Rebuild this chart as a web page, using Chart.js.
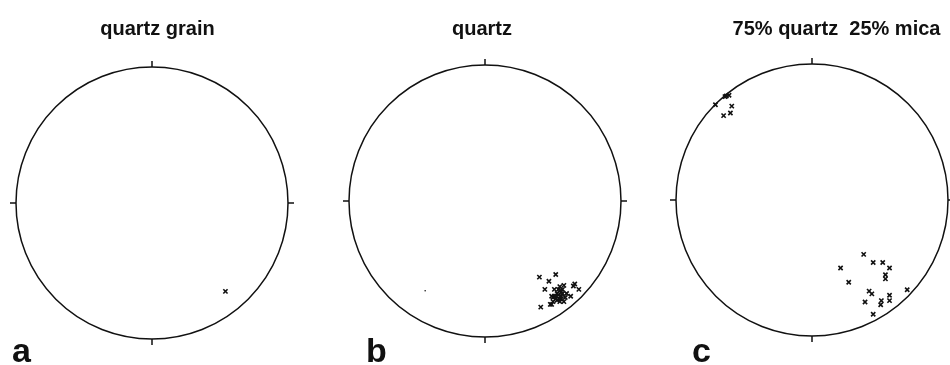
<!DOCTYPE html>
<html>
<head>
<meta charset="utf-8">
<script src="https://cdn.jsdelivr.net/npm/chart.js@4.4.1/dist/chart.umd.min.js"></script>
<style>
  html, body { margin: 0; padding: 0; background: #fff; overflow: hidden; }
  #wrap { position: relative; width: 950px; height: 365px; overflow: hidden; }
  .panel { position: absolute; top: 0; width: 320px; height: 365px; }
</style>
</head>
<body>
<div id="wrap">
  <div class="panel" style="left:-8px"><canvas id="netA" width="320" height="365"></canvas></div>
  <div class="panel" style="left:325px"><canvas id="netB" width="320" height="365"></canvas></div>
  <div class="panel" style="left:652px"><canvas id="netC" width="320" height="365"></canvas></div>
</div>
<script>
// Pole positions in unit-circle coordinates (x east, y north)
const grainPoles = [[0.54, -0.65]];

const quartzPoles = [
  [0.40, -0.56], [0.52, -0.54], [0.47, -0.59], [0.44, -0.65], [0.51, -0.65],
  [0.55, -0.63], [0.58, -0.62], [0.66, -0.61], [0.69, -0.65], [0.63, -0.70],
  [0.60, -0.68], [0.56, -0.67], [0.53, -0.68], [0.49, -0.70], [0.55, -0.72],
  [0.58, -0.74], [0.50, -0.74], [0.48, -0.76], [0.53, -0.73], [0.41, -0.78],
  [0.49, -0.76], [0.56, -0.70], [0.59, -0.71], [0.65, -0.625], [0.54, -0.65],
  [0.57, -0.68], [0.51, -0.70], [0.50, -0.71], [0.52, -0.72], [0.55, -0.66],
  [0.54, -0.69], [0.56, -0.72], [0.52, -0.70], [0.55, -0.74], [0.57, -0.65]
];
const quartzStray = [[-0.44, -0.66]];

const micaPoles = [
  [-0.71, 0.70], [-0.64, 0.76], [-0.61, 0.77], [-0.63, 0.765],
  [-0.59, 0.69], [-0.65, 0.62], [-0.60, 0.64]
];
const mixQuartzPoles = [
  [0.38, -0.40], [0.21, -0.50], [0.45, -0.46], [0.52, -0.46], [0.57, -0.50],
  [0.54, -0.55], [0.54, -0.58], [0.27, -0.605], [0.42, -0.67], [0.44, -0.69],
  [0.57, -0.70], [0.70, -0.66], [0.39, -0.75], [0.51, -0.74], [0.505, -0.77],
  [0.57, -0.74], [0.45, -0.84]
];

const toXY = pts => pts.map(([x, y]) => ({ x, y }));

// primitive circle, N/E/S/W ticks, title and panel letter
const netFrame = {
  id: 'netFrame',
  afterDatasetsDraw(chart, args, opts) {
    const { ctx } = chart;
    const sx = chart.scales.x, sy = chart.scales.y;
    const cx = sx.getPixelForValue(0), cy = sy.getPixelForValue(0);
    const r = sx.getPixelForValue(1) - cx;
    ctx.save();
    ctx.strokeStyle = '#111';
    ctx.lineWidth = 1.5;
    ctx.beginPath();
    ctx.arc(cx, cy, r, 0, Math.PI * 2);
    ctx.stroke();
    ctx.beginPath();
    ctx.moveTo(cx, cy - r); ctx.lineTo(cx, cy - r - 6);
    ctx.moveTo(cx, cy + r); ctx.lineTo(cx, cy + r + 6);
    ctx.moveTo(cx - r, cy); ctx.lineTo(cx - r - 6, cy);
    ctx.moveTo(cx + r, cy); ctx.lineTo(cx + r + 6, cy);
    ctx.stroke();

    ctx.fillStyle = '#111';
    ctx.textBaseline = 'alphabetic';
    ctx.textAlign = 'center';
    ctx.font = 'bold 20px "Liberation Sans", Arial, sans-serif';
    ctx.fillText(opts.title, cx + opts.titleDx, 35);
    ctx.textAlign = 'left';
    ctx.font = 'bold 34px "Liberation Sans", Arial, sans-serif';
    ctx.fillText(opts.letter, opts.letterX, 362);
    ctx.restore();
  }
};

function crosses(pts) {
  return {
    data: toXY(pts),
    pointStyle: 'crossRot',
    pointRadius: 3,
    borderWidth: 1.6,
    borderColor: '#111',
    backgroundColor: '#111'
  };
}

function makeNet(id, datasets, pad, frame) {
  new Chart(document.getElementById(id), {
    type: 'scatter',
    data: { datasets },
    options: {
      responsive: false,
      animation: false,
      events: [],
      layout: { padding: pad },
      scales: {
        x: { display: false, min: -1, max: 1 },
        y: { display: false, min: -1, max: 1 }
      },
      plugins: {
        legend: { display: false },
        tooltip: { enabled: false },
        netFrame: frame
      }
    },
    plugins: [netFrame]
  });
}

makeNet('netA', [crosses(grainPoles)],
  { left: 24, right: 24, top: 67, bottom: 26 },
  { title: 'quartz grain', titleDx: 5.5, letter: 'a', letterX: 20 });

makeNet('netB', [
    crosses(quartzPoles),
    { data: toXY(quartzStray), pointStyle: 'circle', pointRadius: 0.8,
      borderWidth: 0, backgroundColor: '#111' }
  ],
  { left: 24, right: 24, top: 65, bottom: 28 },
  { title: 'quartz', titleDx: -3, letter: 'b', letterX: 41 });

makeNet('netC', [crosses(micaPoles), crosses(mixQuartzPoles)],
  { left: 24, right: 24, top: 64, bottom: 29 },
  { title: '75% quartz  25% mica', titleDx: 24.5, letter: 'c', letterX: 40 });
</script>
</body>
</html>
